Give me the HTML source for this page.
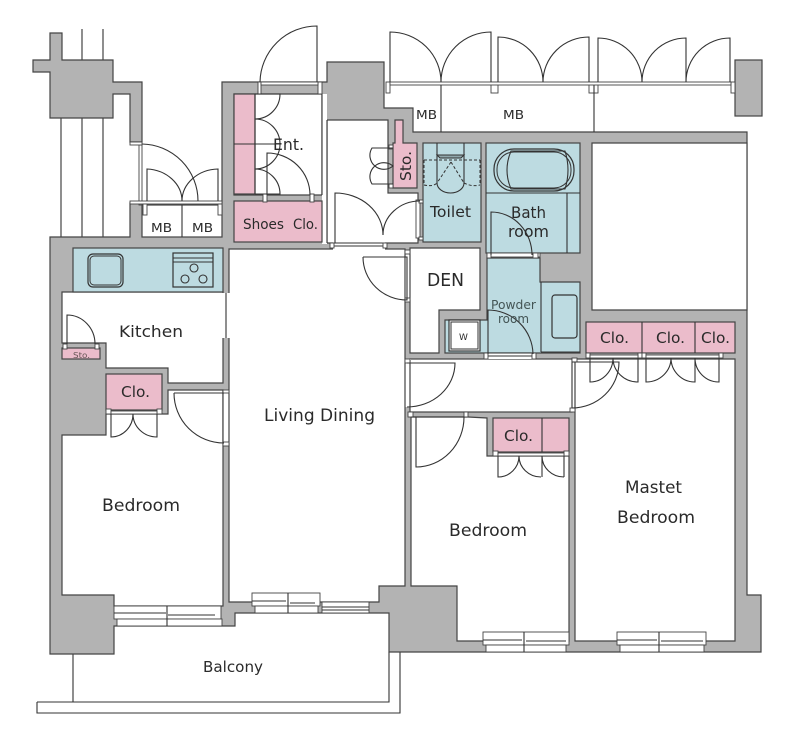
<!DOCTYPE html>
<html><head><meta charset="utf-8"><style>
html,body{margin:0;padding:0;background:#fff;width:800px;height:743px;overflow:hidden}
svg{display:block;filter:blur(.25px)}
text{font-family:"DejaVu Sans",sans-serif;fill:#2a2a2a}
.w{fill:#fff;stroke:#444;stroke-width:1.2}
.g{fill:#b3b3b3;stroke:#444;stroke-width:1.2}
.p{fill:#ebbccb;stroke:#444;stroke-width:1.2}
.b{fill:#bddbe1;stroke:#444;stroke-width:1.2}
.l{fill:none;stroke:#333;stroke-width:1.1}
.j{fill:#fff;stroke:#444;stroke-width:.9}
</style></head><body>
<svg width="800" height="743" viewBox="0 0 800 743" xmlns="http://www.w3.org/2000/svg">
<!-- balcony -->
<path class="l" d="M73 654V702M37 702H389V652M37 702V713H400V652"/>
<!-- outside vertical lines -->
<path class="l" d="M61 118V237M82 29V237M103 29V237"/>
<!-- top-left block -->
<polygon class="g" points="50,33 62,33 62,60 113,60 113,82 142,82 142,142 130,142 130,94 113,94 113,118 50,118 50,72 33,72 33,60 50,60"/>
<!-- base walls -->
<polygon class="g" points="50,237 130,237 130,203 222,203 222,82 327,82 327,62 384,62 384,108 413,108 413,132 747,132 747,595 761,595 761,652 389,652 389,613 235,613 235,626 114,626 114,654 50,654"/>
<!-- right block -->
<rect class="g" x="735" y="60" width="27" height="56"/>
<!-- void -->
<polygon class="w" points="592,143 747,143 747,310 592,310"/>
<!-- rooms -->
<rect class="w" x="142" y="205" width="80" height="32"/>
<polygon class="w" points="234,94 322,94 322,195 234,195"/>
<polygon class="w" points="327,120 388,120 388,193 418,193 418,243 327,243"/>
<rect x="322" y="94" width="5" height="150" fill="#fff"/>
<path class="l" d="M322 94V195M327 120V243"/>
<polygon class="w" points="229,249 405,249 405,586 379,586 379,602 229,602"/>
<polygon class="w" points="62,292 223,292 223,383 168,383 168,368 106,368 106,343 62,343"/>
<polygon class="w" points="62,435 106,435 106,414 168,414 168,390 223,390 223,606 114,606 114,595 62,595"/>
<polygon class="w" points="410,248 480,248 480,310 439,310 439,353 410,353"/>
<rect class="w" x="410" y="359" width="162" height="53"/>
<polygon class="w" points="411,417 468,417 487,418 487,456 493,456 569,456 569,641 457,641 457,586 411,586"/>
<polygon class="w" points="575,359 735,359 735,641 575,641"/>
<!-- openings -->
<rect class="j" x="139" y="145" width="3" height="60"/>
<rect x="222" y="293" width="8" height="45" fill="#fff"/><path class="l" d="M226 293V338"/>
<rect x="223" y="390" width="7" height="53" fill="#fff"/><path class="l" d="M223 390V443M229 390V443"/>
<rect x="404" y="250" width="7" height="50" fill="#fff"/><path class="l" d="M405 250V300M410 250V300"/>
<rect x="404" y="359" width="7" height="48" fill="#fff"/><path class="l" d="M405 359V407M410 359V407"/>
<rect x="569" y="360" width="7" height="48" fill="#fff"/><path class="l" d="M572 360V408M575 360V408"/>
<rect x="333" y="241" width="52" height="9" fill="#fff"/><path class="l" d="M333 243H385M333 246H385"/>
<!-- jambs -->
<g class="j">
<rect class="j" x="130" y="142" width="12" height="3"/>
<rect class="j" x="130" y="201" width="92" height="3"/>
<rect class="j" x="143" y="204" width="4" height="11"/>
<rect class="j" x="218" y="204" width="4" height="11"/>
<rect class="j" x="258" y="82" width="3" height="12"/>
<rect class="j" x="318" y="82" width="4" height="12"/>
<rect class="j" x="261" y="82" width="57" height="3"/>
<rect class="j" x="386" y="82" width="4" height="11"/>
<rect class="j" x="491" y="82" width="7" height="11"/>
<rect class="j" x="589" y="82" width="9" height="11"/>
<rect class="j" x="731" y="82" width="4" height="11"/>
<rect class="j" x="390" y="82" width="341" height="3"/>
<rect class="j" x="416" y="200" width="4" height="38"/>
<rect class="j" x="330" y="243" width="4" height="5"/>
<rect class="j" x="383" y="243" width="4" height="5"/>
<rect class="j" x="405" y="250" width="5" height="4"/>
<rect class="j" x="405" y="298" width="5" height="4"/>
<rect class="j" x="405" y="359" width="5" height="4"/>
<rect class="j" x="408" y="412" width="5" height="5"/>
<rect class="j" x="464" y="412" width="4" height="5"/>
<rect class="j" x="572" y="358" width="5" height="4"/>
<rect class="j" x="570" y="408" width="5" height="4"/>
<rect class="j" x="223" y="390" width="6" height="3"/>
<rect class="j" x="223" y="442" width="6" height="4"/>
</g>
<!-- pink -->
<rect class="p" x="234" y="94" width="21" height="100"/>
<path class="l" d="M234 144H255"/>
<rect class="p" x="234" y="201" width="88" height="41"/>
<rect class="j" x="263" y="194" width="4" height="8"/>
<rect class="j" x="310" y="194" width="4" height="8"/>
<polygon class="p" points="395,120 403,120 403,143 417,143 417,188 393,188 393,143 395,143"/>
<rect class="j" x="389" y="145" width="4" height="4"/>
<rect class="j" x="389" y="184" width="4" height="4"/>
<rect class="p" x="62" y="348" width="38" height="11"/>
<rect class="j" x="63" y="344" width="4" height="5"/>
<rect class="j" x="95" y="344" width="4" height="5"/>
<rect class="p" x="106" y="374" width="56" height="36"/>
<rect class="j" x="106" y="409" width="5" height="5"/>
<rect class="j" x="157" y="409" width="5" height="5"/>
<rect class="j" x="111" y="411" width="46" height="3"/>
<rect class="p" x="493" y="418" width="76" height="34"/>
<path class="l" d="M542 418V452"/>
<rect class="j" x="493" y="451" width="5" height="5"/>
<rect class="j" x="564" y="451" width="5" height="5"/>
<rect class="j" x="498" y="453" width="66" height="3"/>
<rect class="p" x="586" y="322" width="149" height="31"/>
<path class="l" d="M642 322V353M695 322V353"/>
<rect class="j" x="586" y="353" width="4" height="5"/>
<rect class="j" x="638" y="353" width="4" height="5"/>
<rect class="j" x="642" y="353" width="4" height="5"/>
<rect class="j" x="719" y="353" width="4" height="5"/>
<rect class="j" x="590" y="355" width="48" height="3"/>
<rect class="j" x="646" y="355" width="73" height="3"/>
<!-- blue -->
<rect class="b" x="73" y="248" width="150" height="44"/>
<rect x="88" y="254" width="35" height="33" rx="5" fill="none" stroke="#333" stroke-width="1.2"/>
<rect x="90" y="256" width="31" height="29" rx="4" fill="none" stroke="#333" stroke-width="1"/>
<rect x="173" y="253" width="40" height="34" fill="none" stroke="#333" stroke-width="1.2"/>
<path class="l" d="M173 258H213M173 262H213"/>
<circle class="l" cx="194" cy="268" r="4"/><circle class="l" cx="185" cy="279" r="4"/><circle class="l" cx="203" cy="279" r="4"/>
<rect class="b" x="423" y="143" width="58" height="99"/>
<rect class="j" x="419" y="200" width="4" height="3"/>
<rect class="j" x="419" y="237" width="4" height="3"/>
<path class="l" d="M437 143V183A13.5 10 0 0 0 464 183V143"/>
<path d="M437 155H464L461 158H440Z" fill="#8fa5aa" stroke="#333" stroke-width="1"/>
<path d="M424 160H480M424 160V185M480 160V185M424 185Q433 187 437 183M464 183Q472 187 480 185M451 162L437 183M451 162L464 183" fill="none" stroke="#333" stroke-width="1" stroke-dasharray="3 2"/>
<rect class="b" x="486" y="143" width="94" height="110"/>
<path class="l" d="M486 193H580M567 193V253"/>
<rect x="494" y="149" width="80" height="42" rx="20" fill="none" stroke="#333" stroke-width="1.2"/>
<rect x="497" y="152" width="74" height="36" rx="17" fill="none" stroke="#333" stroke-width="1"/>
<path class="l" d="M511 151Q503 170 511 189H565Q571 170 565 151Z"/>
<polygon class="b" points="487,258 540,258 540,282 580,282 580,353 445,353 445,320 487,320"/>
<rect x="449" y="320" width="31" height="31" fill="#fff" stroke="#333" stroke-width="1.2"/>
<rect x="451" y="322" width="27" height="27" fill="#fff" stroke="#333" stroke-width="1"/>
<path class="l" d="M541 282V352M541 352H580"/>
<rect x="552" y="295" width="25" height="43" rx="3" fill="none" stroke="#333" stroke-width="1.2"/>
<rect class="j" x="487" y="253" width="53" height="4"/>
<rect class="j" x="487" y="253" width="4" height="5"/>
<rect class="j" x="533" y="253" width="5" height="5"/>
<rect x="486" y="353" width="48" height="6" fill="#fff"/>
<path class="l" d="M486 353H534M486 356H534"/>
<rect class="j" x="484" y="353" width="4" height="6"/>
<rect class="j" x="532" y="353" width="4" height="6"/>
<!-- door leaves -->
<g class="l">
<path class="l" d="M142 144A57 57 0 0 1 198 201"/>
<path class="l" d="M147 201V169A37 32 0 0 1 182 201M218 201V169A37 32 0 0 0 182 201"/>
<path class="l" d="M260 82A57 57 0 0 1 317 26V82"/>
<path class="l" d="M255 94V194M255 94H280A25 25 0 0 1 255 119A25 25 0 0 1 280 144H255M280 144A25 25 0 0 1 255 169A25 25 0 0 1 280 194H255"/>
<path class="l" d="M267 195V153A43 42 0 0 1 310 195"/>
<path class="l" d="M390 82V32A51 50 0 0 1 441 82M491 82V32A50 50 0 0 0 441 82"/>
<path class="l" d="M498 82V37A45 45 0 0 1 543 82M589 82V37A46 45 0 0 0 543 82"/>
<path class="l" d="M598 82V38A44 44 0 0 1 642 82M686 82V38A44 44 0 0 0 642 82M730 82V38A44 44 0 0 0 686 82"/>
<path class="l" d="M441 85V132M594 85V132"/>
<path class="l" d="M182 205V237"/>
<path class="l" d="M393 148H372A14 14 0 0 0 393 166A14 14 0 0 0 372 184H393"/>
<path class="l" d="M335 243V193A48 42 0 0 1 383 235"/>
<path class="l" d="M420 201A37 34 0 0 0 383 235"/>
<path class="l" d="M491 255V212A41 43 0 0 1 532 255"/>
<path class="l" d="M363 257H407V300A44 43 0 0 1 363 257"/>
<path class="l" d="M488 354V310A45 45 0 0 1 533 354"/>
<path class="l" d="M407 363H455A48 44 0 0 1 407 407"/>
<path class="l" d="M416 417V467A48 50 0 0 0 464 417H411"/>
<path class="l" d="M572 362H619A47 46 0 0 1 572 408"/>
<path class="l" d="M590 358V382A23 24 0 0 0 613 358M638 358V382A25 24 0 0 1 613 358"/>
<path class="l" d="M646 358V382A25 24 0 0 0 671 358M695 358V382A24 24 0 0 1 671 358M719 358V382A24 24 0 0 1 695 358"/>
<path class="l" d="M498 456V477A21 21 0 0 0 519 456M541 477A22 21 0 0 1 519 456M564 477A22 21 0 0 1 542 456M564 456V477M542 456V477"/>
<path class="l" d="M111 414V437A22 23 0 0 0 133 414M157 414V437A24 23 0 0 1 133 414"/>
<path class="l" d="M174 393H224M174 393A50 50 0 0 0 224 443"/>
<path class="l" d="M67 344V315A28 29 0 0 1 95 344"/>
</g>
<!-- windows -->
<g class="j">
<rect class="j" x="114" y="606" width="107" height="13"/>
<rect class="j" x="117" y="619" width="105" height="7"/>
<path class="l" d="M167 606V626M114 613H166M168 615H215"/>
<rect class="j" x="252" y="593" width="68" height="13"/>
<rect class="j" x="255" y="606" width="63" height="7"/>
<path class="l" d="M288 593V613M252 601H286M290 603H315"/>
<rect class="j" x="322" y="602" width="47" height="11"/>
<path class="l" d="M322 607H369M322 610H369"/>
<rect class="j" x="483" y="632" width="86" height="13"/>
<rect class="j" x="486" y="645" width="80" height="7"/>
<path class="l" d="M524 632V652M483 640H522M526 641H566"/>
<rect class="j" x="617" y="632" width="89" height="13"/>
<rect class="j" x="620" y="645" width="84" height="7"/>
<path class="l" d="M659 632V652M617 640H657M661 641H703"/>
</g>
<!-- labels -->
<text x="151" y="232" font-size="12" textLength="21" lengthAdjust="spacingAndGlyphs">MB</text>
<text x="192" y="232" font-size="12" textLength="21" lengthAdjust="spacingAndGlyphs">MB</text>
<text x="273" y="150" font-size="16" textLength="31" lengthAdjust="spacingAndGlyphs">Ent.</text>
<text x="243" y="229" font-size="14" textLength="41" lengthAdjust="spacingAndGlyphs">Shoes</text>
<text x="293" y="229" font-size="14" textLength="25" lengthAdjust="spacingAndGlyphs">Clo.</text>
<text x="416" y="119" font-size="12" textLength="21" lengthAdjust="spacingAndGlyphs">MB</text>
<text x="503" y="119" font-size="12" textLength="21" lengthAdjust="spacingAndGlyphs">MB</text>
<text transform="translate(411,181) rotate(-90)" font-size="15" textLength="30" lengthAdjust="spacingAndGlyphs">Sto.</text>
<text x="430" y="217" font-size="15" textLength="41" lengthAdjust="spacingAndGlyphs">Toilet</text>
<text x="511" y="218" font-size="16" textLength="35" lengthAdjust="spacingAndGlyphs">Bath</text>
<text x="508" y="237" font-size="16" textLength="41" lengthAdjust="spacingAndGlyphs">room</text>
<text x="427" y="286" font-size="18" textLength="37" lengthAdjust="spacingAndGlyphs">DEN</text>
<text x="491" y="309" font-size="12" textLength="45" lengthAdjust="spacingAndGlyphs" style="fill:#455">Powder</text>
<text x="498" y="323" font-size="12" textLength="31" lengthAdjust="spacingAndGlyphs" style="fill:#455">room</text>
<text x="459" y="340" font-size="9">W</text>
<text x="600" y="343" font-size="15" textLength="29" lengthAdjust="spacingAndGlyphs">Clo.</text>
<text x="656" y="343" font-size="15" textLength="29" lengthAdjust="spacingAndGlyphs">Clo.</text>
<text x="701" y="343" font-size="15" textLength="29" lengthAdjust="spacingAndGlyphs">Clo.</text>
<text x="504" y="441" font-size="15" textLength="29" lengthAdjust="spacingAndGlyphs">Clo.</text>
<text x="121" y="397" font-size="15" textLength="29" lengthAdjust="spacingAndGlyphs">Clo.</text>
<text x="119" y="337" font-size="16" textLength="64" lengthAdjust="spacingAndGlyphs">Kitchen</text>
<text x="73" y="358" font-size="8" textLength="17" lengthAdjust="spacingAndGlyphs" style="fill:#655">Sto.</text>
<text x="264" y="421" font-size="17" textLength="111" lengthAdjust="spacingAndGlyphs">Living Dining</text>
<text x="102" y="511" font-size="17" textLength="78" lengthAdjust="spacingAndGlyphs">Bedroom</text>
<text x="449" y="536" font-size="17" textLength="78" lengthAdjust="spacingAndGlyphs">Bedroom</text>
<text x="625" y="493" font-size="17" textLength="57" lengthAdjust="spacingAndGlyphs">Mastet</text>
<text x="617" y="523" font-size="17" textLength="78" lengthAdjust="spacingAndGlyphs">Bedroom</text>
<text x="203" y="672" font-size="15" textLength="60" lengthAdjust="spacingAndGlyphs">Balcony</text>
</svg>
</body></html>
